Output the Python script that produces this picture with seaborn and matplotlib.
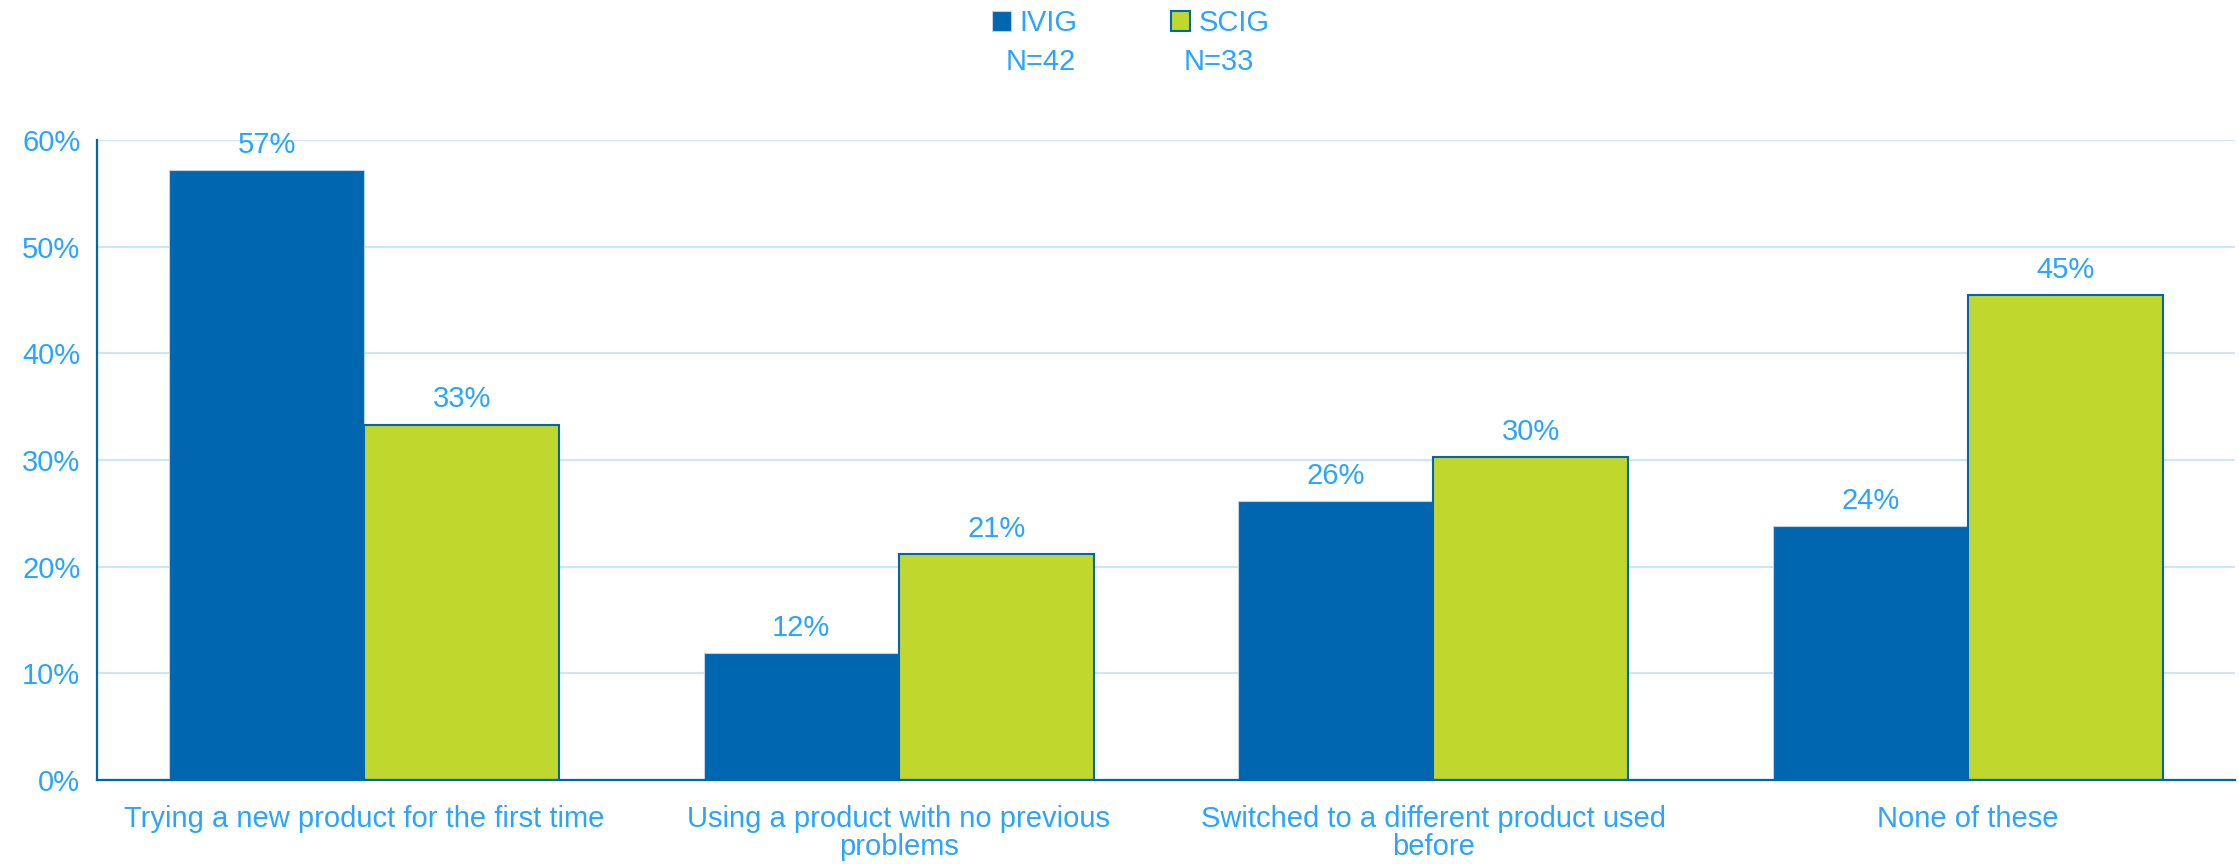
import pandas as pd
import seaborn as sns
from matplotlib import pyplot as plt
from matplotlib.patches import Patch
from matplotlib.ticker import PercentFormatter

categories = [
    "Trying a new product for the first time",
    "Using a product with no previous\nproblems",
    "Switched to a different product used\nbefore",
    "None of these",
]
groups = ["IVIG", "SCIG"]
group_n = ["N=42", "N=33"]
ivig = [57.14, 11.90, 26.19, 23.81]
scig = [33.33, 21.21, 30.30, 45.45]

blue = "#0066B0"
green = "#C0D72D"
text_blue = "#2AA4FF"
grid_blue = "#CCE6FC"

df = pd.DataFrame({
    "Category": categories * 2,
    "Group": [groups[0]] * 4 + [groups[1]] * 4,
    "Value": ivig + scig,
})

sns.set_style("white")
plt.rcParams['font.family'] = ['Liberation Sans', 'DejaVu Sans']

fig = plt.figure(figsize=(22.39, 8.64), dpi=100)
ax = fig.add_axes([0.0433, 0.097, 0.955, 0.741])

sns.barplot(data=df, x="Category", y="Value", hue="Group",
            palette=[blue, green], width=0.73, ax=ax, legend=False,
            saturation=1)

edge_colors = ["#B8D3EC", blue]
edge_widths = [0.8, 1.5]
for i, cont in enumerate(ax.containers):
    for p in cont:
        p.set_edgecolor(edge_colors[i])
        p.set_linewidth(edge_widths[i])
    ax.bar_label(cont, labels=[f"{v:.0f}%" for v in cont.datavalues],
                 padding=8, color=text_blue, fontsize=21)

ax.set_ylim(0, 60)
ax.set_yticks(range(0, 61, 10))
ax.yaxis.set_major_formatter(PercentFormatter(decimals=0))
ax.set_xlim(-0.5, 3.5)
ax.grid(axis='y', color=grid_blue, linewidth=1.5)
ax.set_axisbelow(True)
ax.set_xlabel("")
ax.set_ylabel("")
ax.tick_params(axis='both', length=0, labelsize=21, labelcolor=text_blue)
ax.tick_params(axis='x', pad=18)
ax.tick_params(axis='y', pad=12)
for lbl in ax.get_xticklabels():
    lbl.set_linespacing(1.0)

for s in ['top', 'right']:
    ax.spines[s].set_visible(False)
for s in ['left', 'bottom']:
    ax.spines[s].set_color(blue)
    ax.spines[s].set_linewidth(1.6)

handles = [Patch(facecolor=blue, edgecolor="#B8D3EC", linewidth=0.8),
           Patch(facecolor=green, edgecolor=blue, linewidth=1.5)]
fig.legend(handles, groups, loc='center', bbox_to_anchor=(0.505, 0.973),
           ncol=2, frameon=False, fontsize=21, labelcolor=text_blue,
           handlelength=0.65, handleheight=0.65, handletextpad=0.3,
           columnspacing=3.2)

fig.text(1041 / 2239, 1 - 62 / 864, group_n[0], ha='center', va='center',
         color=text_blue, fontsize=21)
fig.text(1219 / 2239, 1 - 62 / 864, group_n[1], ha='center', va='center',
         color=text_blue, fontsize=21)

fig.savefig("out.png", dpi=100)
